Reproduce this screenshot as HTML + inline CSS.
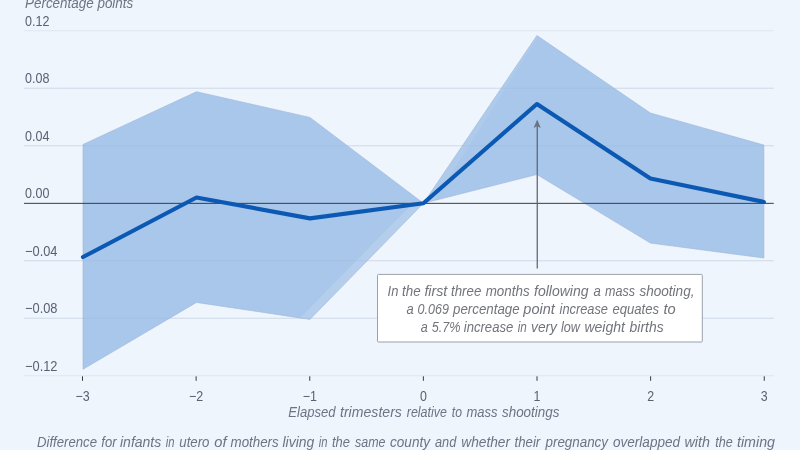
<!DOCTYPE html>
<html><head><meta charset="utf-8"><title>Chart</title>
<style>
html,body{margin:0;padding:0;background:#eff5fd;}
body{width:800px;height:450px;overflow:hidden;}
svg{display:block;}
text{font-family:"Liberation Sans",sans-serif;font-size:14px;fill:#5b6171;}
.it{font-style:italic;fill:#6e7383;}
.an{fill:#72747b;}
</style></head><body>
<svg width="800" height="450" viewBox="0 0 800 450">
<rect width="800" height="450" fill="#eff5fd"/>

<line x1="24" x2="773.75" y1="30.75" y2="30.75" stroke="#e0e6f0" stroke-width="1"/>
<line x1="24" x2="773.75" y1="88.25" y2="88.25" stroke="#e0e6f0" stroke-width="1"/>
<line x1="24" x2="773.75" y1="145.75" y2="145.75" stroke="#e0e6f0" stroke-width="1"/>
<line x1="24" x2="773.75" y1="260.75" y2="260.75" stroke="#e0e6f0" stroke-width="1"/>
<line x1="24" x2="773.75" y1="318.25" y2="318.25" stroke="#e0e6f0" stroke-width="1"/>
<line x1="24" x2="773.75" y1="375.75" y2="375.75" stroke="#e0e6f0" stroke-width="1"/>
<polygon points="83.00,144.46 196.48,91.70 309.96,117.43 423.44,203.25 536.92,35.49 650.40,112.98 763.88,145.03 763.88,258.02 650.40,243.07 536.92,174.50 423.44,203.25 309.96,319.40 196.48,302.44 83.00,369.28" fill="#a9c7ea" stroke="#9cb6da" stroke-width="0.6" stroke-linejoin="miter"/>
<polygon points="423.44,203.25 412.9,203.25 300,317.9 309.96,319.40" fill="#ffffff" fill-opacity="0.13"/>
<polygon points="423.44,203.25 432.5,203.25 536.92,38.49 536.92,35.49" fill="#ffffff" fill-opacity="0.08"/>
<line x1="24" x2="773.75" y1="88.25" y2="88.25" stroke="#8fa9cc" stroke-opacity="0.18" stroke-width="1"/>
<line x1="24" x2="773.75" y1="145.75" y2="145.75" stroke="#8fa9cc" stroke-opacity="0.18" stroke-width="1"/>
<line x1="24" x2="773.75" y1="260.75" y2="260.75" stroke="#8fa9cc" stroke-opacity="0.18" stroke-width="1"/>
<line x1="24" x2="773.75" y1="318.25" y2="318.25" stroke="#8fa9cc" stroke-opacity="0.18" stroke-width="1"/>
<line x1="24" x2="773.75" y1="203.35" y2="203.35" stroke="#383c44" stroke-width="1"/>
<polyline points="83.00,257.01 196.48,197.50 309.96,218.34 423.44,203.25 536.92,104.06 650.40,178.53 763.88,201.96" fill="none" stroke="#0c59b4" stroke-width="4.15" stroke-linejoin="round" stroke-linecap="round"/>
<line x1="82.50" x2="82.50" y1="376.3" y2="380.8" stroke="#383c44" stroke-width="1"/>
<line x1="196.12" x2="196.12" y1="376.3" y2="380.8" stroke="#383c44" stroke-width="1"/>
<line x1="309.75" x2="309.75" y1="376.3" y2="380.8" stroke="#383c44" stroke-width="1"/>
<line x1="423.38" x2="423.38" y1="376.3" y2="380.8" stroke="#383c44" stroke-width="1"/>
<line x1="537.00" x2="537.00" y1="376.3" y2="380.8" stroke="#383c44" stroke-width="1"/>
<line x1="650.62" x2="650.62" y1="376.3" y2="380.8" stroke="#383c44" stroke-width="1"/>
<line x1="764.25" x2="764.25" y1="376.3" y2="380.8" stroke="#383c44" stroke-width="1"/>
<text x="25" y="25.75" textLength="24.4" lengthAdjust="spacingAndGlyphs">0.12</text>
<text x="25" y="83.25" textLength="24.4" lengthAdjust="spacingAndGlyphs">0.08</text>
<text x="25" y="140.75" textLength="24.4" lengthAdjust="spacingAndGlyphs">0.04</text>
<text x="25" y="198.25" textLength="24.4" lengthAdjust="spacingAndGlyphs">0.00</text>
<text x="25" y="255.75" textLength="32.5" lengthAdjust="spacingAndGlyphs">−0.04</text>
<text x="25" y="313.25" textLength="32.5" lengthAdjust="spacingAndGlyphs">−0.08</text>
<text x="25" y="370.75" textLength="32.5" lengthAdjust="spacingAndGlyphs">−0.12</text>
<text x="75.40" y="400.5" textLength="14.2" lengthAdjust="spacingAndGlyphs">−3</text>
<text x="189.03" y="400.5" textLength="14.2" lengthAdjust="spacingAndGlyphs">−2</text>
<text x="302.65" y="400.5" textLength="14.2" lengthAdjust="spacingAndGlyphs">−1</text>
<text x="419.93" y="400.5" textLength="6.9" lengthAdjust="spacingAndGlyphs">0</text>
<text x="533.55" y="400.5" textLength="6.9" lengthAdjust="spacingAndGlyphs">1</text>
<text x="647.17" y="400.5" textLength="6.9" lengthAdjust="spacingAndGlyphs">2</text>
<text x="760.80" y="400.5" textLength="6.9" lengthAdjust="spacingAndGlyphs">3</text>
<text class="it" x="25" y="7.8" textLength="108.25" lengthAdjust="spacingAndGlyphs">Percentage points</text>
<text class="it" y="446.8"><tspan x="37" textLength="60.00" lengthAdjust="spacingAndGlyphs">Difference</tspan> <tspan x="101.25" textLength="15.25" lengthAdjust="spacingAndGlyphs">for</tspan> <tspan x="120" textLength="41.25" lengthAdjust="spacingAndGlyphs">infants</tspan> <tspan x="165.75" textLength="8.75" lengthAdjust="spacingAndGlyphs">in</tspan> <tspan x="179.25" textLength="30.25" lengthAdjust="spacingAndGlyphs">utero</tspan> <tspan x="214.25" textLength="12.25" lengthAdjust="spacingAndGlyphs">of</tspan> <tspan x="230.5" textLength="48.25" lengthAdjust="spacingAndGlyphs">mothers</tspan> <tspan x="282.5" textLength="31.75" lengthAdjust="spacingAndGlyphs">living</tspan> <tspan x="318.75" textLength="8.75" lengthAdjust="spacingAndGlyphs">in</tspan> <tspan x="332" textLength="18.00" lengthAdjust="spacingAndGlyphs">the</tspan> <tspan x="355" textLength="30.50" lengthAdjust="spacingAndGlyphs">same</tspan> <tspan x="390" textLength="40.00" lengthAdjust="spacingAndGlyphs">county</tspan> <tspan x="435" textLength="21.25" lengthAdjust="spacingAndGlyphs">and</tspan> <tspan x="461.25" textLength="48.75" lengthAdjust="spacingAndGlyphs">whether</tspan> <tspan x="514.5" textLength="25.75" lengthAdjust="spacingAndGlyphs">their</tspan> <tspan x="545.5" textLength="62.50" lengthAdjust="spacingAndGlyphs">pregnancy</tspan> <tspan x="613" textLength="67.00" lengthAdjust="spacingAndGlyphs">overlapped</tspan> <tspan x="684.5" textLength="25.50" lengthAdjust="spacingAndGlyphs">with</tspan> <tspan x="715.25" textLength="17.55" lengthAdjust="spacingAndGlyphs">the</tspan> <tspan x="737" textLength="38.00" lengthAdjust="spacingAndGlyphs">timing</tspan></text>
<line x1="537.25" x2="537.25" y1="126" y2="268.5" stroke="#5d6474" stroke-width="1.25"/>
<polygon points="537.20,119.4 533.60,128 537.20,126.2 540.80,128" fill="#6a7484"/>
<rect x="377.5" y="274.4" width="324.8" height="67.6" fill="#ffffff" stroke="#9ca1ad" stroke-width="1" rx="1"/>
<text class="it an" y="296.1"><tspan x="387.6" textLength="10.80" lengthAdjust="spacingAndGlyphs">In</tspan> <tspan x="402" textLength="18.60" lengthAdjust="spacingAndGlyphs">the</tspan> <tspan x="424.4" textLength="22.90" lengthAdjust="spacingAndGlyphs">first</tspan> <tspan x="451" textLength="30.40" lengthAdjust="spacingAndGlyphs">three</tspan> <tspan x="485.7" textLength="43.90" lengthAdjust="spacingAndGlyphs">months</tspan> <tspan x="534" textLength="54.50" lengthAdjust="spacingAndGlyphs">following</tspan> <tspan x="593.5" textLength="7.30" lengthAdjust="spacingAndGlyphs">a</tspan> <tspan x="605" textLength="30.00" lengthAdjust="spacingAndGlyphs">mass</tspan> <tspan x="639.4" textLength="55.10" lengthAdjust="spacingAndGlyphs">shooting,</tspan></text>
<text class="it an" y="314.2"><tspan x="406.4" textLength="7.20" lengthAdjust="spacingAndGlyphs">a</tspan> <tspan x="417.6" textLength="31.40" lengthAdjust="spacingAndGlyphs">0.069</tspan> <tspan x="453" textLength="66.60" lengthAdjust="spacingAndGlyphs">percentage</tspan> <tspan x="523.3" textLength="31.50" lengthAdjust="spacingAndGlyphs">point</tspan> <tspan x="559.6" textLength="48.40" lengthAdjust="spacingAndGlyphs">increase</tspan> <tspan x="612.4" textLength="46.60" lengthAdjust="spacingAndGlyphs">equates</tspan> <tspan x="663.4" textLength="12.20" lengthAdjust="spacingAndGlyphs">to</tspan></text>
<text class="it an" y="332.3"><tspan x="420.7" textLength="7.00" lengthAdjust="spacingAndGlyphs">a</tspan> <tspan x="431.7" textLength="28.80" lengthAdjust="spacingAndGlyphs">5.7%</tspan> <tspan x="463.75" textLength="49.55" lengthAdjust="spacingAndGlyphs">increase</tspan> <tspan x="517.7" textLength="9.10" lengthAdjust="spacingAndGlyphs">in</tspan> <tspan x="531" textLength="26.00" lengthAdjust="spacingAndGlyphs">very</tspan> <tspan x="561" textLength="19.00" lengthAdjust="spacingAndGlyphs">low</tspan> <tspan x="584.4" textLength="40.60" lengthAdjust="spacingAndGlyphs">weight</tspan> <tspan x="629.6" textLength="34.00" lengthAdjust="spacingAndGlyphs">births</tspan></text>
<text class="it" y="416.9"><tspan x="288.25" textLength="47.25" lengthAdjust="spacingAndGlyphs">Elapsed</tspan> <tspan x="340" textLength="61.90" lengthAdjust="spacingAndGlyphs">trimesters</tspan> <tspan x="406.75" textLength="40.15" lengthAdjust="spacingAndGlyphs">relative</tspan> <tspan x="451.75" textLength="10.15" lengthAdjust="spacingAndGlyphs">to</tspan> <tspan x="466.4" textLength="31.10" lengthAdjust="spacingAndGlyphs">mass</tspan> <tspan x="502" textLength="57.40" lengthAdjust="spacingAndGlyphs">shootings</tspan></text>
</svg></body></html>
